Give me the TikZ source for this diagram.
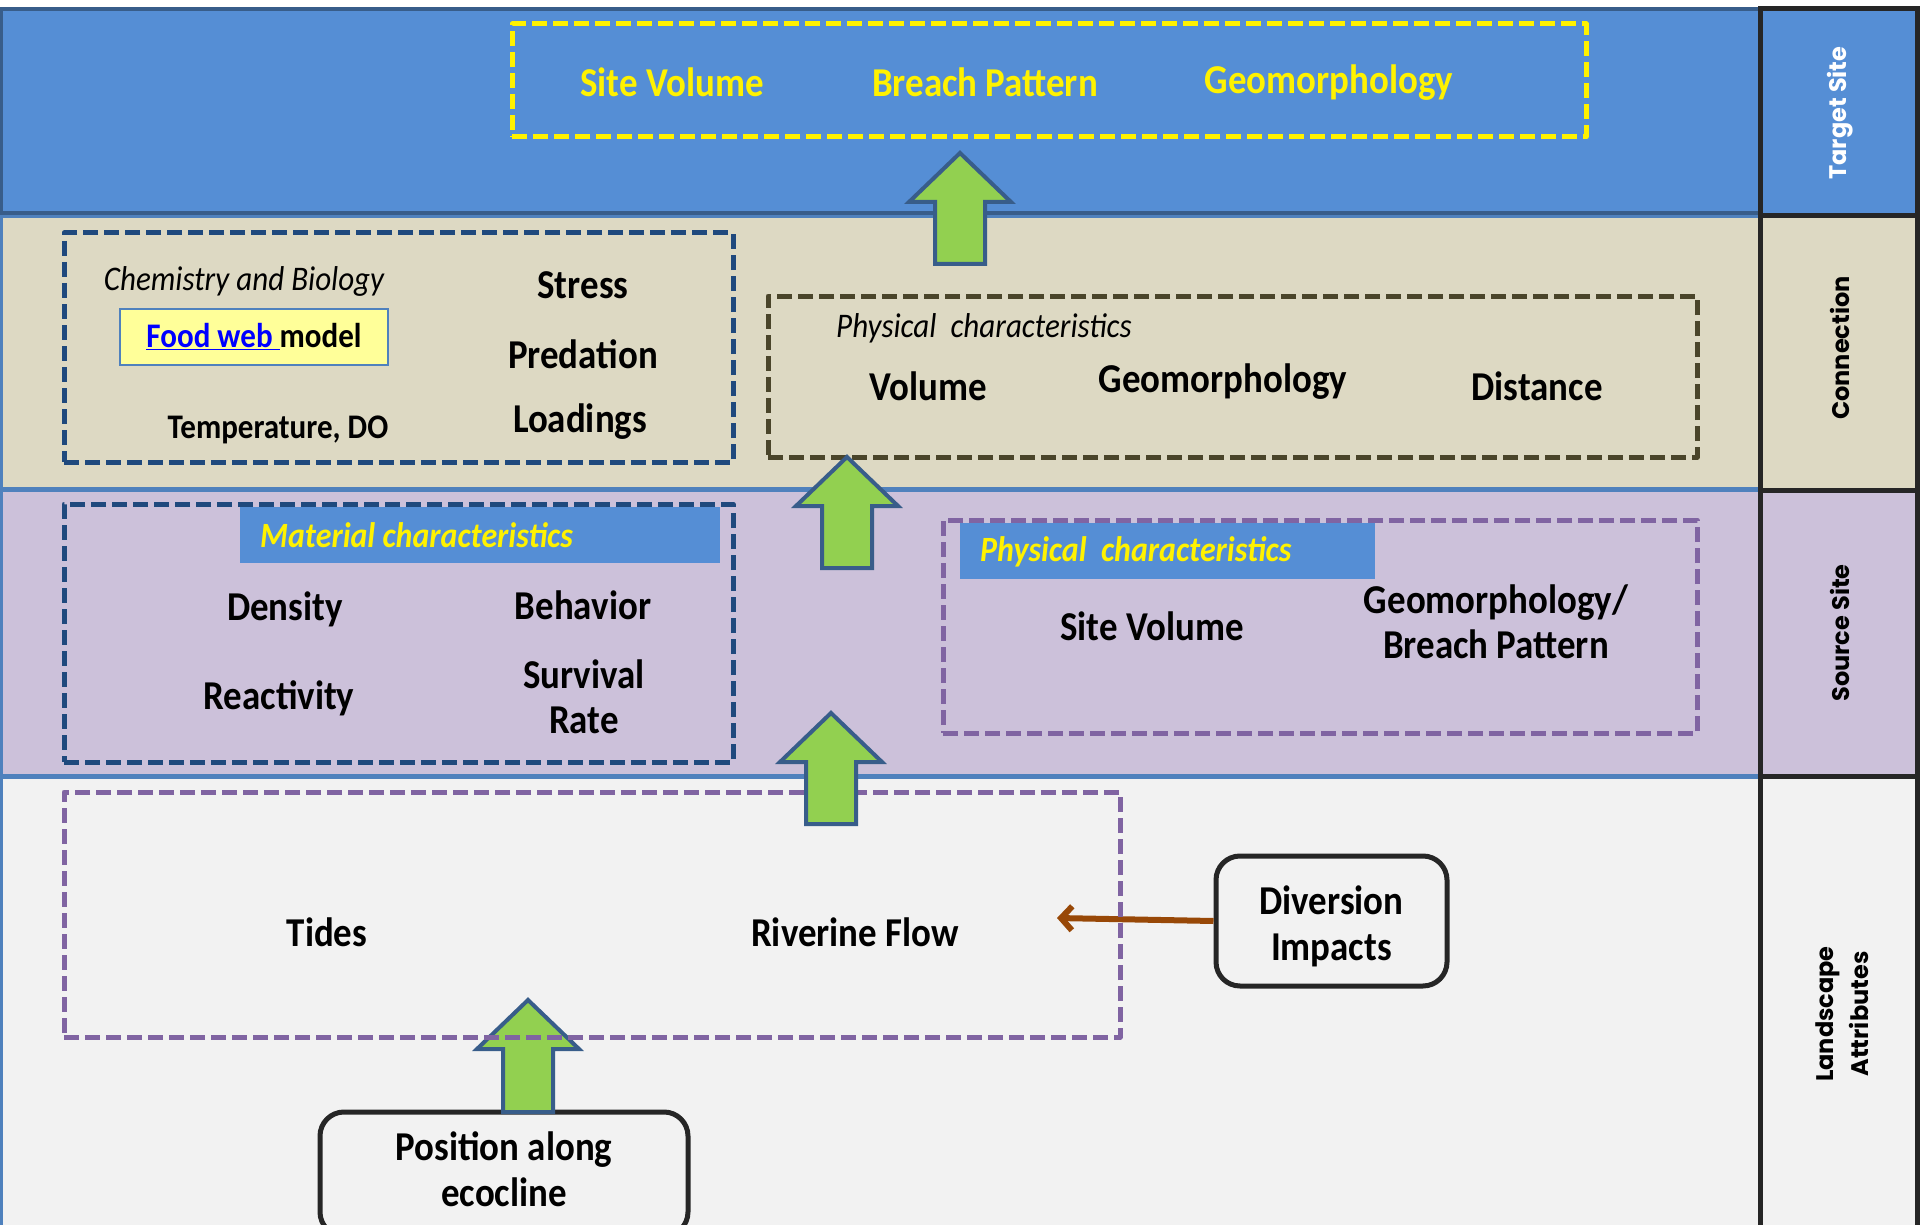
\documentclass[tikz,border=0pt]{standalone}
\usepackage{fontspec}
\setmainfont{Carlito}[FakeStretch=0.9]
\newfontfamily\sidefont{Poppins}
\usetikzlibrary{arrows.meta,calc}

\definecolor{tblue}{HTML}{558ED5}
\definecolor{tblueline}{HTML}{385D8A}
\definecolor{bandline}{HTML}{4F81BD}
\definecolor{beige}{HTML}{DDD9C3}
\definecolor{lilac}{HTML}{CCC1DA}
\definecolor{paper}{HTML}{F2F2F2}
\definecolor{leaf}{HTML}{92D050}
\definecolor{navydash}{HTML}{1F497D}
\definecolor{olivedash}{HTML}{4A452A}
\definecolor{violetdash}{HTML}{8064A2}
\definecolor{rust}{HTML}{984807}
\definecolor{pale}{HTML}{FFFF99}
\definecolor{ink}{HTML}{262626}
\definecolor{linkblue}{HTML}{0000FF}

% block arrow from a foot coordinate up to a tip coordinate
\newcommand{\liftarrow}[2]{%
  \draw[garrow] ($(#2)+(-25,0)$) -- ($(#1)+(-25,49)$) -- ($(#1)+(-51,49)$) -- (#1)
    -- ($(#1)+(51,49)$) -- ($(#1)+(25,49)$) -- ($(#2)+(25,0)$) -- cycle;}

\begin{document}
\begin{tikzpicture}[x=1pt,y=-1pt,
  lbl/.style={font=\bfseries\fontsize{41}{45}\selectfont, align=center, inner sep=0pt},
  smallbold/.style={font=\bfseries\fontsize{34.5}{38}\selectfont, inner sep=0pt},
  ital/.style={font=\itshape\fontsize{34.5}{38}\selectfont, inner sep=0pt},
  dbox/.style={line width=5pt, dash pattern=on 15pt off 6pt, inner sep=0pt, line join=round},
  banner/.style={fill=tblue, inner sep=0pt},
  bantext/.style={font=\bfseries\itshape\fontsize{35.5}{38}\selectfont, text=yellow, inner sep=0pt, anchor=west},
  garrow/.style={fill=leaf, draw=tblueline, line width=4pt, line join=miter},
  rbox/.style={draw=ink, line width=5pt, rounded corners=24pt, fill=paper, inner sep=0pt},
  rtext/.style={align=center, font=\bfseries\fontsize{41}{46}\selectfont, inner sep=0pt},
  band/.style={draw=bandline, line width=3.5pt},
  cell/.style={draw=ink, line width=5pt},
  side/.style={font=\sidefont\bfseries\fontsize{24}{35}\selectfont, rotate=90, align=center, inner sep=0pt},
  flow/.style={draw=rust, line width=6pt, -{Straight Barb[length=11pt,width=24pt]}}]

\useasboundingbox (0,0) rectangle (1920,1225);
\clip (0,0) rectangle (1920,1225);

% horizontal bands
\fill[white] (0,0) rectangle (1920,1225);
\draw[band, fill=paper] (1,777) rectangle (1760,1230);
\draw[band, fill=lilac] (1,490) rectangle (1760,776);
\draw[band, fill=beige] (1,216) rectangle (1760,489);
\draw[draw=tblueline, line width=4pt, fill=tblue] (1,9) rectangle (1760,213);

% side column
\draw[cell, fill=tblue] (1760,9) rectangle (1917,216);
\draw[cell, fill=beige] (1760,216) rectangle (1917,490);
\draw[cell, fill=lilac] (1760,490) rectangle (1917,776);
\draw[cell, fill=paper] (1760,776) rectangle (1917,1235);
\node[side, text=white] (lt) at (1840,113) {Target Site};
\node[side] (lc) at (1840,348) {Connection};
\node[side] (ls) at (1840,633) {Source Site};
\node[side] (ll) at (1842,1014) {Landscape\\Attributes};

% target site
\node[dbox, draw=yellow, minimum width=1074pt, minimum height=113pt] (target) at (1049,80.5) {};
\node[lbl, text=yellow] (t1) at (672,82) {Site Volume};
\node[lbl, text=yellow] (t2) at (985,82) {Breach Pattern};
\node[lbl, text=yellow] (t3) at (1329,83) {Geomorphology};

% connection: chemistry and biology
\node[dbox, draw=navydash, minimum width=669pt, minimum height=229pt] (chem) at (398.5,347.5) {};
\node[ital] (chemt) at (244,281) {Chemistry and Biology};
\node[draw=bandline, line width=2pt, fill=pale, minimum width=268pt, minimum height=56pt, inner sep=0pt,
  font=\bfseries\fontsize{34.5}{38}\selectfont] (food) at (254,337)
  {{\color{linkblue}\underline{Food web\ }}model};
\node[smallbold] (temp) at (278,430) {Temperature, DO};
\node[lbl] (stress) at (583,285) {Stress};
\node[lbl] (pred) at (583,354) {Predation};
\node[lbl] (load) at (580,422) {Loadings};

% connection: physical characteristics
\node[dbox, draw=olivedash, minimum width=929pt, minimum height=161pt] (cphys) at (1232.5,376.5) {};
\node[ital, anchor=west] (cphyst) at (836,328) {Physical\ \ characteristics};
\node[lbl] (cvol) at (928,386) {Volume};
\node[lbl] (cgeo) at (1223,382) {Geomorphology};
\node[lbl] (cdist) at (1537,386) {Distance};

% source site: material characteristics
\node[dbox, draw=navydash, minimum width=669pt, minimum height=258pt] (mat) at (398.5,633) {};
\node[banner, minimum width=480pt, minimum height=56pt] (matban) at (480,535) {};
\node[bantext] (matt) at (260,535) {Material characteristics};
\node[lbl] (dens) at (285,609) {Density};
\node[lbl] (behav) at (583,605) {Behavior};
\node[lbl] (react) at (279,698) {Reactivity};
\node[lbl] (surv) at (584,697) {Survival\\Rate};

% source site: physical characteristics
\node[dbox, draw=violetdash, minimum width=754pt, minimum height=213pt] (sphys) at (1320,626.5) {};
\node[banner, minimum width=415pt, minimum height=56pt] (physban) at (1167.5,551) {};
\node[bantext] (physt) at (980,552) {Physical\ \ characteristics};
\node[lbl] (svol) at (1152,626) {Site Volume};
\node[lbl] (sgeo) at (1496,622) {Geomorphology/\\Breach Pattern};

% landscape attributes
\node[lbl] (tides) at (327,932) {Tides};
\node[lbl] (river) at (855,932) {Riverine Flow};
\node[rbox, minimum width=231pt, minimum height=130pt] (div) at (1331.5,921) {};
\node[rtext] (divt) at (1331.5,926) {Diversion\\Impacts};
\node[rbox, minimum width=368pt, minimum height=124pt] (pos) at (504,1174) {};
\node[rtext] (post) at (504,1169) {Position along\\ecocline};
\coordinate (flowend) at (1057,918);
\draw[flow] (div.west) -- (flowend);

% upward arrows
\coordinate (a4t) at (528,1000);
\coordinate (a4f) at (528,1112);
\liftarrow{a4t}{a4f}
\node[dbox, draw=violetdash, minimum width=1056pt, minimum height=245pt] (land) at (592,914.5) {};

\coordinate (a3t) at (831,713);
\coordinate (a3f) at (831,824);
\liftarrow{a3t}{a3f}
\coordinate (a2t) at (847,457);
\coordinate (a2f) at (847,568);
\liftarrow{a2t}{a2f}
\coordinate (a1t) at (960,153);
\coordinate (a1f) at (960,264);
\liftarrow{a1t}{a1f}
\end{tikzpicture}
\end{document}
